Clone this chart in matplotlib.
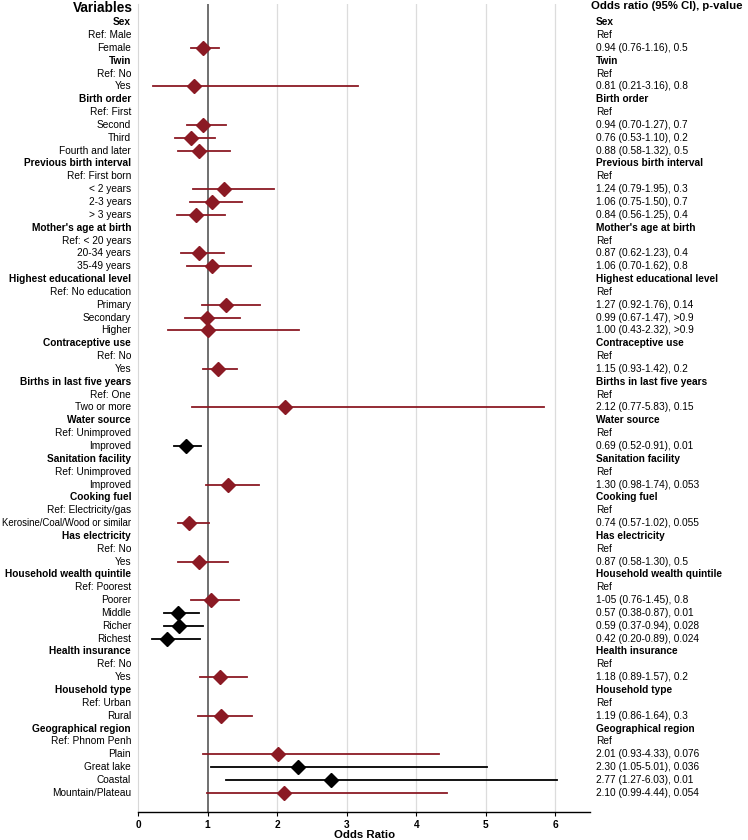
import matplotlib
matplotlib.use('Agg')
import matplotlib.pyplot as plt

plt.rcParams['font.family'] = ['Liberation Sans', 'DejaVu Sans']

# one entry per row: H = group header, R = reference level, E = estimate
row_kinds = ['H', 'R', 'E',
             'H', 'R', 'E',
             'H', 'R', 'E', 'E', 'E',
             'H', 'R', 'E', 'E', 'E',
             'H', 'R', 'E', 'E',
             'H', 'R', 'E', 'E', 'E',
             'H', 'R', 'E',
             'H', 'R', 'E',
             'H', 'R', 'E',
             'H', 'R', 'E',
             'H', 'R', 'E',
             'H', 'R', 'E',
             'H', 'R', 'E', 'E', 'E', 'E',
             'H', 'R', 'E',
             'H', 'R', 'E',
             'H', 'R', 'E', 'E', 'E', 'E']

row_labels = ['Sex', 'Ref: Male', 'Female',
              'Twin', 'Ref: No', 'Yes',
              'Birth order', 'Ref: First', 'Second', 'Third', 'Fourth and later',
              'Previous birth interval', 'Ref: First born', '< 2 years', '2-3 years', '> 3 years',
              "Mother's age at birth", 'Ref: < 20 years', '20-34 years', '35-49 years',
              'Highest educational level', 'Ref: No education', 'Primary', 'Secondary', 'Higher',
              'Contraceptive use', 'Ref: No', 'Yes',
              'Births in last five years', 'Ref: One', 'Two or more',
              'Water source', 'Ref: Unimproved', 'Improved',
              'Sanitation facility', 'Ref: Unimproved', 'Improved',
              'Cooking fuel', 'Ref: Electricity/gas', 'Kerosine/Coal/Wood or similar',
              'Has electricity', 'Ref: No', 'Yes',
              'Household wealth quintile', 'Ref: Poorest', 'Poorer', 'Middle', 'Richer', 'Richest',
              'Health insurance', 'Ref: No', 'Yes',
              'Household type', 'Ref: Urban', 'Rural',
              'Geographical region', 'Ref: Phnom Penh', 'Plain', 'Great lake', 'Coastal', 'Mountain/Plateau']

# estimates for the 'E' rows, in order
odds = [0.94, 0.81, 0.94, 0.76, 0.88, 1.24, 1.06, 0.84, 0.87, 1.06,
        1.27, 0.99, 1.00, 1.15, 2.12, 0.69, 1.30, 0.74, 0.87,
        1.05, 0.57, 0.59, 0.42, 1.18, 1.19, 2.01, 2.30, 2.77, 2.10]
ci_low = [0.76, 0.21, 0.70, 0.53, 0.58, 0.79, 0.75, 0.56, 0.62, 0.70,
          0.92, 0.67, 0.43, 0.93, 0.77, 0.52, 0.98, 0.57, 0.58,
          0.76, 0.38, 0.37, 0.20, 0.89, 0.86, 0.93, 1.05, 1.27, 0.99]
ci_high = [1.16, 3.16, 1.27, 1.10, 1.32, 1.95, 1.50, 1.25, 1.23, 1.62,
           1.76, 1.47, 2.32, 1.42, 5.83, 0.91, 1.74, 1.02, 1.30,
           1.45, 0.87, 0.94, 0.89, 1.57, 1.64, 4.33, 5.01, 6.03, 4.44]
significant = [False, False, False, False, False, False, False, False, False, False,
               False, False, False, False, False, True, False, False, False,
               False, True, True, True, False, False, False, True, True, False]

result_texts = ['0.94 (0.76-1.16), 0.5', '0.81 (0.21-3.16), 0.8',
                '0.94 (0.70-1.27), 0.7', '0.76 (0.53-1.10), 0.2', '0.88 (0.58-1.32), 0.5',
                '1.24 (0.79-1.95), 0.3', '1.06 (0.75-1.50), 0.7', '0.84 (0.56-1.25), 0.4',
                '0.87 (0.62-1.23), 0.4', '1.06 (0.70-1.62), 0.8',
                '1.27 (0.92-1.76), 0.14', '0.99 (0.67-1.47), >0.9', '1.00 (0.43-2.32), >0.9',
                '1.15 (0.93-1.42), 0.2', '2.12 (0.77-5.83), 0.15', '0.69 (0.52-0.91), 0.01',
                '1.30 (0.98-1.74), 0.053', '0.74 (0.57-1.02), 0.055', '0.87 (0.58-1.30), 0.5',
                '1-05 (0.76-1.45), 0.8', '0.57 (0.38-0.87), 0.01', '0.59 (0.37-0.94), 0.028',
                '0.42 (0.20-0.89), 0.024', '1.18 (0.89-1.57), 0.2', '1.19 (0.86-1.64), 0.3',
                '2.01 (0.93-4.33), 0.076', '2.30 (1.05-5.01), 0.036', '2.77 (1.27-6.03), 0.01',
                '2.10 (0.99-4.44), 0.054']

xticks = [0, 1, 2, 3, 4, 5, 6]

RED = '#8b1a24'
FS = 7.3

fig = plt.figure(figsize=(7.48, 8.4), dpi=100)
ax = fig.add_axes([0.1845, 0.0333, 0.6045, 0.9617])

n = len(row_labels)
ax.set_ylim(n + 0.5, -1.4)
ax.set_xlim(0, 6.5)

for x in xticks[2:]:
    ax.axvline(x, color='#dcdcdc', lw=0.9, zorder=0)
ax.axvline(1, color='#707070', lw=1.4, zorder=1)

e = 0
for i, (kind, label) in enumerate(zip(row_kinds, row_labels)):
    # the longest label is squeezed a little so it stays inside the figure
    fs = FS if len(label) < 26 else 6.9
    if kind == 'H':
        ax.text(-0.1, i, label, ha='right', va='center', fontsize=fs, fontweight='bold')
        ax.text(6.58, i, label, ha='left', va='center', fontsize=FS, fontweight='bold')
    elif kind == 'R':
        ax.text(-0.1, i, label, ha='right', va='center', fontsize=fs)
        ax.text(6.58, i, 'Ref', ha='left', va='center', fontsize=FS)
    else:
        ax.text(-0.1, i, label, ha='right', va='center', fontsize=fs)
        ax.text(6.58, i, result_texts[e], ha='left', va='center', fontsize=FS)
        c = 'black' if significant[e] else RED
        ax.plot([ci_low[e], ci_high[e]], [i, i], color=c, lw=1.3, zorder=3)
        ax.plot(odds[e], i, marker='D', color=c, markersize=7, zorder=4)
        e += 1

fig.text(133 / 748, 1 - 0.5 / 840, 'Variables', ha='right', va='top', fontsize=9.8,
         fontweight='bold')
fig.text(591 / 748, 1 - 1 / 840, 'Odds ratio (95% CI), p-value', ha='left', va='top',
         fontsize=8.2, fontweight='bold')

ax.set_yticks([])
ax.set_xticks(xticks)
ax.set_xticklabels([str(x) for x in xticks], fontweight='bold', fontsize=FS)
ax.set_xlabel('Odds Ratio', fontweight='bold', fontsize=8.2, labelpad=0)
ax.tick_params(axis='x', length=3, width=0.8, pad=2.5)
ax.spines['top'].set_visible(False)
ax.spines['right'].set_visible(False)
ax.spines['left'].set_color('#d8d8d8')
ax.spines['bottom'].set_linewidth(1.0)

fig.savefig('out.png', dpi=100)
